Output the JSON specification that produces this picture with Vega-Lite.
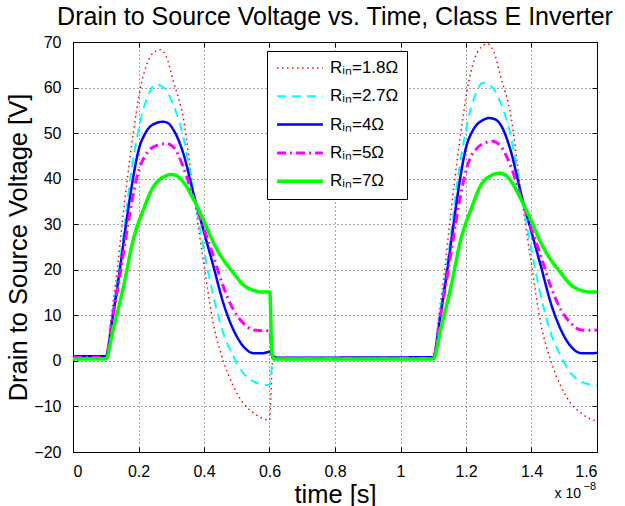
{
"$schema":"https://vega.github.io/schema/vega-lite/v6.json",
"width":524,"height":410,
"autosize":{"type":"none"},
"padding":{"left":73,"top":42,"right":28,"bottom":54},
"background":"white",
"title":{"text":"Drain to Source Voltage vs. Time, Class E Inverter","fontSize":25,"font":"Liberation Sans","fontWeight":"normal","anchor":"middle","offset":4,"color":"black"},
"config":{
 "font":"Liberation Sans",
 "view":{"stroke":"black","strokeWidth":1},
 "axis":{"domainColor":"black","tickColor":"black","tickSize":-5,"labelFont":"Liberation Sans","labelFontSize":16,"labelColor":"black","titleFont":"Liberation Sans","titleFontSize":25.5,"titleFontWeight":"normal","titleColor":"black","gridColor":"#222","gridDash":[1,3],"gridOpacity":0.8,"gridWidth":1}
},
"datasets":{"curves":[
{"s":"1.8","t":0,"v":0.6},{"s":"1.8","t":0.1,"v":0.6},{"s":"1.8","t":0.117,"v":10},{"s":"1.8","t":0.135,"v":20},{"s":"1.8","t":0.15,"v":30},{"s":"1.8","t":0.166,"v":40},{"s":"1.8","t":0.184,"v":50},{"s":"1.8","t":0.205,"v":59.5},{"s":"1.8","t":0.225,"v":65},{"s":"1.8","t":0.245,"v":67.6},{"s":"1.8","t":0.266,"v":68.3},{"s":"1.8","t":0.285,"v":66.8},{"s":"1.8","t":0.306,"v":61.5},{"s":"1.8","t":0.337,"v":53.2},{"s":"1.8","t":0.367,"v":37.3},{"s":"1.8","t":0.398,"v":22},{"s":"1.8","t":0.429,"v":8},{"s":"1.8","t":0.459,"v":0},{"s":"1.8","t":0.49,"v":-5.6},{"s":"1.8","t":0.52,"v":-9.3},{"s":"1.8","t":0.551,"v":-11.4},{"s":"1.8","t":0.581,"v":-12.7},{"s":"1.8","t":0.6,"v":-13.0},{"s":"1.8","t":0.61,"v":0.3},{"s":"1.8","t":0.625,"v":0.6},{"s":"1.8","t":1.1,"v":0.6},{"s":"1.8","t":1.117,"v":10},{"s":"1.8","t":1.135,"v":20},{"s":"1.8","t":1.15,"v":30},{"s":"1.8","t":1.166,"v":40},{"s":"1.8","t":1.184,"v":50},{"s":"1.8","t":1.205,"v":60},{"s":"1.8","t":1.225,"v":66},{"s":"1.8","t":1.245,"v":68.8},{"s":"1.8","t":1.266,"v":69.6},{"s":"1.8","t":1.285,"v":67.8},{"s":"1.8","t":1.306,"v":62.4},{"s":"1.8","t":1.337,"v":53.7},{"s":"1.8","t":1.367,"v":37.5},{"s":"1.8","t":1.398,"v":22},{"s":"1.8","t":1.429,"v":8},{"s":"1.8","t":1.459,"v":0},{"s":"1.8","t":1.49,"v":-5.6},{"s":"1.8","t":1.52,"v":-9.3},{"s":"1.8","t":1.551,"v":-11.4},{"s":"1.8","t":1.581,"v":-12.8},{"s":"1.8","t":1.6,"v":-13.2},
{"s":"2.7","t":0,"v":0.8},{"s":"2.7","t":0.1,"v":0.8},{"s":"2.7","t":0.119,"v":10},{"s":"2.7","t":0.14,"v":20},{"s":"2.7","t":0.158,"v":30},{"s":"2.7","t":0.175,"v":40},{"s":"2.7","t":0.198,"v":50},{"s":"2.7","t":0.215,"v":55.3},{"s":"2.7","t":0.23,"v":58.3},{"s":"2.7","t":0.25,"v":60.7},{"s":"2.7","t":0.275,"v":60.1},{"s":"2.7","t":0.306,"v":56.3},{"s":"2.7","t":0.337,"v":49.1},{"s":"2.7","t":0.367,"v":37.5},{"s":"2.7","t":0.398,"v":25},{"s":"2.7","t":0.429,"v":14.1},{"s":"2.7","t":0.459,"v":6.1},{"s":"2.7","t":0.49,"v":1.0},{"s":"2.7","t":0.52,"v":-2.7},{"s":"2.7","t":0.551,"v":-4.5},{"s":"2.7","t":0.581,"v":-5.2},{"s":"2.7","t":0.6,"v":-5.3},{"s":"2.7","t":0.61,"v":0},{"s":"2.7","t":0.625,"v":0.7},{"s":"2.7","t":1.1,"v":0.7},{"s":"2.7","t":1.119,"v":10},{"s":"2.7","t":1.14,"v":20},{"s":"2.7","t":1.158,"v":30},{"s":"2.7","t":1.175,"v":40},{"s":"2.7","t":1.198,"v":50},{"s":"2.7","t":1.215,"v":55.5},{"s":"2.7","t":1.23,"v":58.6},{"s":"2.7","t":1.25,"v":61.0},{"s":"2.7","t":1.275,"v":60.4},{"s":"2.7","t":1.306,"v":56.6},{"s":"2.7","t":1.337,"v":49.3},{"s":"2.7","t":1.367,"v":37.5},{"s":"2.7","t":1.398,"v":25},{"s":"2.7","t":1.429,"v":14.1},{"s":"2.7","t":1.459,"v":6.1},{"s":"2.7","t":1.49,"v":1.0},{"s":"2.7","t":1.52,"v":-2.7},{"s":"2.7","t":1.551,"v":-4.5},{"s":"2.7","t":1.581,"v":-5.2},{"s":"2.7","t":1.6,"v":-5.4},
{"s":"4","t":0,"v":1.0},{"s":"4","t":0.1,"v":1.0},{"s":"4","t":0.122,"v":10},{"s":"4","t":0.143,"v":20},{"s":"4","t":0.162,"v":30},{"s":"4","t":0.182,"v":39.5},{"s":"4","t":0.2,"v":46.2},{"s":"4","t":0.221,"v":50},{"s":"4","t":0.25,"v":52.1},{"s":"4","t":0.275,"v":52.5},{"s":"4","t":0.29,"v":52.2},{"s":"4","t":0.306,"v":50.8},{"s":"4","t":0.337,"v":45.5},{"s":"4","t":0.367,"v":37},{"s":"4","t":0.398,"v":28.8},{"s":"4","t":0.429,"v":20.7},{"s":"4","t":0.459,"v":12.7},{"s":"4","t":0.49,"v":6.8},{"s":"4","t":0.52,"v":3.2},{"s":"4","t":0.551,"v":1.7},{"s":"4","t":0.581,"v":1.7},{"s":"4","t":0.6,"v":2.0},{"s":"4","t":0.61,"v":1.2},{"s":"4","t":0.622,"v":0.7},{"s":"4","t":1.1,"v":0.8},{"s":"4","t":1.122,"v":10},{"s":"4","t":1.143,"v":20},{"s":"4","t":1.162,"v":30},{"s":"4","t":1.182,"v":40},{"s":"4","t":1.2,"v":46.8},{"s":"4","t":1.221,"v":50.6},{"s":"4","t":1.25,"v":52.8},{"s":"4","t":1.271,"v":53.3},{"s":"4","t":1.29,"v":53.0},{"s":"4","t":1.306,"v":51.8},{"s":"4","t":1.337,"v":46},{"s":"4","t":1.367,"v":37},{"s":"4","t":1.398,"v":28.8},{"s":"4","t":1.429,"v":20.7},{"s":"4","t":1.459,"v":12.7},{"s":"4","t":1.49,"v":6.8},{"s":"4","t":1.52,"v":3.2},{"s":"4","t":1.551,"v":1.7},{"s":"4","t":1.581,"v":1.65},{"s":"4","t":1.6,"v":1.8},
{"s":"5","t":0,"v":0.8},{"s":"5","t":0.1,"v":0.8},{"s":"5","t":0.12,"v":9},{"s":"5","t":0.146,"v":20},{"s":"5","t":0.168,"v":30},{"s":"5","t":0.194,"v":40},{"s":"5","t":0.21,"v":43.6},{"s":"5","t":0.23,"v":46},{"s":"5","t":0.26,"v":47.4},{"s":"5","t":0.285,"v":47.7},{"s":"5","t":0.306,"v":47.0},{"s":"5","t":0.337,"v":42.5},{"s":"5","t":0.367,"v":36.1},{"s":"5","t":0.398,"v":29.5},{"s":"5","t":0.429,"v":22.9},{"s":"5","t":0.459,"v":16.3},{"s":"5","t":0.49,"v":11.2},{"s":"5","t":0.52,"v":8.3},{"s":"5","t":0.551,"v":6.8},{"s":"5","t":0.581,"v":6.6},{"s":"5","t":0.6,"v":6.6},{"s":"5","t":0.61,"v":0.5},{"s":"5","t":0.625,"v":0.6},{"s":"5","t":1.1,"v":0.6},{"s":"5","t":1.12,"v":9},{"s":"5","t":1.146,"v":20},{"s":"5","t":1.168,"v":30},{"s":"5","t":1.194,"v":40},{"s":"5","t":1.21,"v":44},{"s":"5","t":1.23,"v":46.4},{"s":"5","t":1.26,"v":47.9},{"s":"5","t":1.282,"v":48.2},{"s":"5","t":1.306,"v":47.1},{"s":"5","t":1.337,"v":42.7},{"s":"5","t":1.367,"v":36.1},{"s":"5","t":1.398,"v":29.5},{"s":"5","t":1.429,"v":22.9},{"s":"5","t":1.459,"v":16.3},{"s":"5","t":1.49,"v":11.2},{"s":"5","t":1.52,"v":8.3},{"s":"5","t":1.551,"v":6.8},{"s":"5","t":1.581,"v":6.7},{"s":"5","t":1.6,"v":6.8},
{"s":"7","t":0,"v":0.4},{"s":"7","t":0.1,"v":0.4},{"s":"7","t":0.123,"v":7},{"s":"7","t":0.154,"v":16.3},{"s":"7","t":0.184,"v":26.6},{"s":"7","t":0.215,"v":33.2},{"s":"7","t":0.245,"v":38.2},{"s":"7","t":0.275,"v":40.3},{"s":"7","t":0.301,"v":40.9},{"s":"7","t":0.32,"v":40.5},{"s":"7","t":0.337,"v":39.3},{"s":"7","t":0.367,"v":35.6},{"s":"7","t":0.398,"v":31.0},{"s":"7","t":0.429,"v":25.9},{"s":"7","t":0.459,"v":22.2},{"s":"7","t":0.49,"v":19.3},{"s":"7","t":0.52,"v":16.7},{"s":"7","t":0.551,"v":15.5},{"s":"7","t":0.581,"v":15.1},{"s":"7","t":0.601,"v":15.1},{"s":"7","t":0.607,"v":2},{"s":"7","t":0.615,"v":0.4},{"s":"7","t":1.1,"v":0.4},{"s":"7","t":1.123,"v":7},{"s":"7","t":1.154,"v":16.3},{"s":"7","t":1.184,"v":26.6},{"s":"7","t":1.215,"v":33.2},{"s":"7","t":1.245,"v":38.5},{"s":"7","t":1.275,"v":40.6},{"s":"7","t":1.301,"v":41.2},{"s":"7","t":1.32,"v":40.8},{"s":"7","t":1.337,"v":39.5},{"s":"7","t":1.367,"v":35.6},{"s":"7","t":1.398,"v":31.0},{"s":"7","t":1.429,"v":25.9},{"s":"7","t":1.459,"v":22.2},{"s":"7","t":1.49,"v":19.3},{"s":"7","t":1.52,"v":16.7},{"s":"7","t":1.551,"v":15.5},{"s":"7","t":1.581,"v":15.1},{"s":"7","t":1.6,"v":15.1}
],
"note":[{"label":"x 10","exp":"−8"}]},
"layer":[
 {
  "data":{"name":"curves"},
  "mark":{"type":"line","interpolate":"monotone"},
  "encoding":{
   "x":{"field":"t","type":"quantitative","scale":{"domain":[0,1.6],"nice":false,"zero":false},
        "axis":{"values":[0,0.2,0.4,0.6,0.8,1,1.2,1.4,1.6],"format":"~g","title":"time [s]","grid":true,"labelPadding":16,"titlePadding":3}},
   "y":{"field":"v","type":"quantitative","scale":{"domain":[-20,70],"nice":false,"zero":false},
        "axis":{"values":[-20,-10,0,10,20,30,40,50,60,70],"title":"Drain to Source Voltage [V]","grid":true,"labelPadding":17,"titlePadding":2}},
   "color":{"field":"s","type":"nominal","scale":{"domain":["1.8","2.7","4","5","7"],"range":["#ff0000","#00ffff","#0000ff","#ff00ff","#00ff00"]},
        "legend":{"orient":"none","legendX":194,"legendY":9,"title":null,"labelExpr":"'Rᵢₙ=' + datum.label + 'Ω'","symbolType":"stroke","symbolSize":2100,"clipHeight":18,"labelFontSize":17,"labelFont":"Liberation Sans","labelColor":"black","strokeColor":"black","fillColor":"white","padding":8,"rowPadding":10.3,"labelOffset":5,"symbolOpacity":1}},
   "strokeDash":{"field":"s","type":"nominal","scale":{"domain":["1.8","2.7","4","5","7"],"range":[[1.5,3.5],[9,6],[1,0],[9,4,2,4],[1,0]]}},
   "strokeWidth":{"field":"s","type":"nominal","scale":{"domain":["1.8","2.7","4","5","7"],"range":[1.5,3.5,3.5,3,3.5]}}
  }
 },
 {
  "data":{"name":"note"},
  "mark":{"type":"text","align":"right","baseline":"alphabetic","dx":-16,"dy":46,"fontSize":14,"font":"Liberation Sans","color":"black"},
  "encoding":{
   "text":{"field":"label"},
   "x":{"datum":1.6,"type":"quantitative","axis":{"orient":"top","labels":false,"title":null,"grid":false,"domain":false,"values":[0,0.2,0.4,0.6,0.8,1,1.2,1.4,1.6]}},
   "y":{"datum":-20,"type":"quantitative","axis":{"orient":"right","labels":false,"title":null,"grid":false,"domain":false,"values":[-20,-10,0,10,20,30,40,50,60,70]}}
  }
 },
 {
  "data":{"name":"note"},
  "mark":{"type":"text","align":"right","baseline":"alphabetic","dx":-1,"dy":38,"fontSize":11,"font":"Liberation Sans","color":"black"},
  "encoding":{
   "text":{"field":"exp"},
   "x":{"datum":1.6,"type":"quantitative","axis":null},
   "y":{"datum":-20,"type":"quantitative","axis":null}
  }
 }
],
"resolve":{"axis":{"x":"independent","y":"independent"}}
}
